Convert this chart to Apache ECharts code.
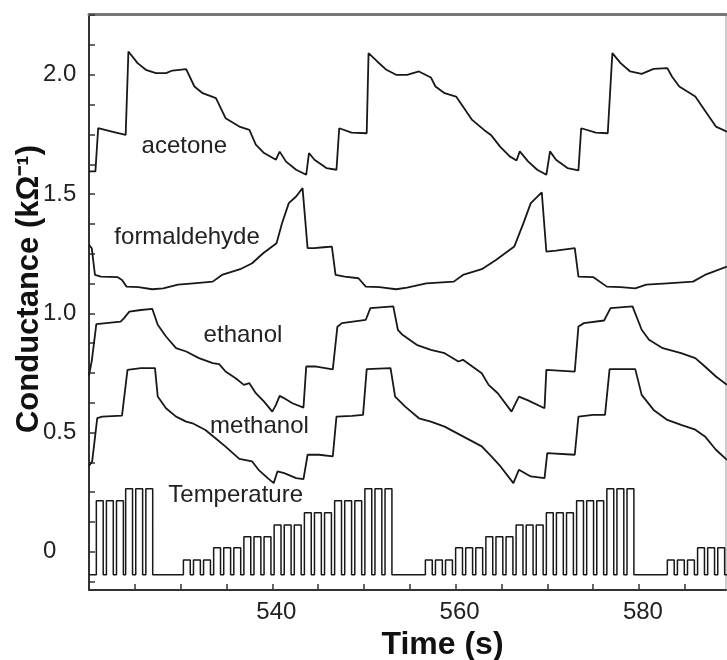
<!DOCTYPE html>
<html>
<head>
<meta charset="utf-8">
<script src="https://cdn.jsdelivr.net/npm/echarts@6/dist/echarts.min.js"></script>
<style>
  html, body { margin: 0; padding: 0; background: #fff; }
  #chart { width: 727px; height: 660px; }
</style>
</head>
<body>
<div id="chart"></div>
<script>
// time ticks (s) and conductance ticks (kOhm^-1)
const xTicks = [525, 530, 535, 540, 545, 550, 555, 560, 565, 570, 575, 580, 585]
const xLabels = [540, 560, 580]
const yTicks = [-0.125, 0, 0.125, 0.25, 0.375, 0.5, 0.625, 0.75, 0.875, 1, 1.125, 1.25, 1.375, 1.5, 1.625, 1.75, 1.875, 2, 2.125, 2.25]
const yLabels = [0, 0.5, 1, 1.5, 2]

// [time, conductance]
const acetone = [
  [520.0, 1.595], [520.7, 1.595], [521.0, 1.776], [522.5, 1.762], [524.0, 1.748], [524.3, 2.098],
  [525.3, 2.049], [526.2, 2.021], [527.3, 2.007], [528.4, 2.007], [529.1, 2.018], [530.6, 2.024],
  [531.5, 1.951], [532.4, 1.923], [533.85, 1.902], [534.9, 1.818], [536.4, 1.783], [537.5, 1.769],
  [538.2, 1.707], [539.1, 1.672], [540.4, 1.644], [540.8, 1.678], [541.5, 1.636], [542.6, 1.602],
  [543.7, 1.581], [544.0, 1.672], [544.6, 1.644], [545.9, 1.609], [547.0, 1.602], [547.3, 1.776],
  [548.65, 1.758], [550.3, 1.755], [550.5, 2.091], [551.45, 2.056], [552.45, 2.021], [553.5, 2.0],
  [554.7, 2.0], [556.0, 2.014], [557.3, 1.989], [557.8, 1.951], [558.8, 1.923], [560.05, 1.909],
  [560.8, 1.867], [561.8, 1.811], [563.1, 1.769], [563.85, 1.748], [564.85, 1.699], [565.9, 1.658],
  [566.65, 1.641], [567.0, 1.679], [567.9, 1.637], [568.9, 1.602], [569.9, 1.581], [570.3, 1.679],
  [570.95, 1.644], [572.2, 1.609], [573.4, 1.599], [573.7, 1.776], [575.3, 1.758], [576.6, 1.755],
  [577.1, 2.091], [578.0, 2.049], [579.05, 2.014], [580.3, 2.004], [581.6, 2.025], [583.1, 2.028],
  [583.6, 1.993], [584.4, 1.951], [586.15, 1.909], [587.4, 1.839], [588.4, 1.783], [589.6, 1.762]
]

const formaldehyde = [
  [520.0, 1.287], [520.3, 1.273], [520.65, 1.161], [521.3, 1.154], [523.1, 1.152], [523.6, 1.14],
  [524.1, 1.112], [525.4, 1.11], [526.9, 1.101], [528.1, 1.105], [529.7, 1.12], [531.4, 1.126],
  [533.5, 1.133], [534.5, 1.161], [536.5, 1.185], [537.8, 1.21], [539.0, 1.252], [540.46, 1.294],
  [541.06, 1.378], [541.8, 1.462], [542.6, 1.49], [543.3, 1.525], [543.85, 1.273], [544.6, 1.273],
  [545.6, 1.277], [546.5, 1.28], [546.9, 1.161], [547.9, 1.154], [549.4, 1.147], [550.2, 1.112],
  [551.7, 1.11], [553.5, 1.101], [554.7, 1.108], [556.8, 1.126], [559.8, 1.133], [560.8, 1.161],
  [562.85, 1.185], [564.4, 1.224], [566.4, 1.28], [567.4, 1.378], [568.2, 1.462], [569.4, 1.507],
  [569.9, 1.259], [570.95, 1.263], [573.0, 1.273], [573.4, 1.154], [575.0, 1.152], [576.5, 1.112],
  [578.0, 1.11], [579.6, 1.105], [580.8, 1.12], [583.1, 1.126], [585.9, 1.133], [587.2, 1.161],
  [589.6, 1.196]
]

const ethanol = [
  [520.0, 0.74], [520.3, 0.80], [520.8, 0.955], [521.0, 0.959], [523.45, 0.965], [523.8, 0.979],
  [524.4, 1.007], [525.65, 1.014], [526.9, 1.019], [527.5, 0.952], [528.4, 0.903], [529.5, 0.854],
  [530.6, 0.84], [532.0, 0.812], [533.5, 0.791], [534.2, 0.787], [534.9, 0.756], [536.0, 0.728],
  [536.9, 0.70], [537.5, 0.707], [538.2, 0.665], [539.1, 0.63], [540.0, 0.588], [540.4, 0.616],
  [540.8, 0.654], [541.3, 0.644], [542.2, 0.623], [543.4, 0.605], [543.7, 0.777], [544.8, 0.777],
  [546.6, 0.765], [547.1, 0.944], [547.6, 0.959], [550.2, 0.973], [550.7, 1.022], [553.2, 1.029],
  [553.7, 0.931], [554.2, 0.91], [555.75, 0.868], [557.3, 0.847], [558.8, 0.833], [560.3, 0.798],
  [560.8, 0.805], [562.85, 0.749], [563.6, 0.70], [564.6, 0.665], [566.1, 0.588], [566.9, 0.651],
  [567.9, 0.635], [569.7, 0.602], [569.9, 0.763], [573.0, 0.756], [573.4, 0.945], [574.0, 0.959],
  [576.2, 0.97], [576.9, 1.022], [579.3, 1.029], [580.3, 0.931], [581.1, 0.889], [582.6, 0.854],
  [584.6, 0.833], [586.15, 0.812], [587.2, 0.777], [588.4, 0.735], [589.6, 0.70]
]

const methanol = [
  [520.0, 0.36], [520.35, 0.38], [520.9, 0.561], [521.45, 0.567], [523.6, 0.571], [524.2, 0.763],
  [525.65, 0.77], [527.2, 0.77], [527.5, 0.651], [528.4, 0.602], [529.5, 0.567], [530.6, 0.546],
  [531.3, 0.539], [532.7, 0.511], [533.8, 0.476], [534.9, 0.441], [536.4, 0.39], [537.8, 0.379],
  [538.5, 0.344], [539.5, 0.309], [540.15, 0.288], [540.56, 0.337], [541.3, 0.33], [542.6, 0.309],
  [543.4, 0.305], [543.85, 0.407], [545.1, 0.407], [546.6, 0.40], [547.0, 0.567], [548.7, 0.57],
  [549.9, 0.574], [550.3, 0.766], [552.9, 0.77], [553.4, 0.651], [554.5, 0.609], [556.0, 0.56],
  [557.3, 0.546], [558.8, 0.525], [560.8, 0.484], [562.85, 0.442], [563.9, 0.40], [564.9, 0.358],
  [566.3, 0.288], [566.9, 0.344], [568.2, 0.316], [569.7, 0.309], [570.0, 0.414], [573.0, 0.407],
  [573.4, 0.567], [575.0, 0.574], [576.3, 0.574], [576.8, 0.766], [579.6, 0.766], [580.3, 0.658],
  [581.6, 0.595], [583.1, 0.553], [584.6, 0.532], [586.15, 0.512], [587.2, 0.484], [588.4, 0.428],
  [589.6, 0.386]
]

// heater pulses: value holds from each time to the next
const temperature = [
  [520.0, -0.096],
  [520.8, 0.214], [521.55, -0.096], [521.9, 0.214], [522.65, -0.096], [523.0, 0.214], [523.75, -0.096],
  [524.0, 0.264], [524.75, -0.096], [525.1, 0.264], [525.85, -0.096], [526.2, 0.264], [526.95, -0.096],
  [530.3, -0.034], [531.05, -0.096], [531.4, -0.034], [532.15, -0.096], [532.5, -0.034], [533.25, -0.096],
  [533.6, 0.017], [534.35, -0.096], [534.7, 0.017], [535.45, -0.096], [535.8, 0.017], [536.55, -0.096],
  [536.9, 0.063], [537.65, -0.096], [538.0, 0.063], [538.75, -0.096], [539.1, 0.063], [539.85, -0.096],
  [540.2, 0.113], [540.95, -0.096], [541.3, 0.113], [542.05, -0.096], [542.4, 0.113], [543.15, -0.096],
  [543.5, 0.164], [544.25, -0.096], [544.6, 0.164], [545.35, -0.096], [545.7, 0.164], [546.45, -0.096],
  [546.8, 0.214], [547.55, -0.096], [547.9, 0.214], [548.65, -0.096], [549.0, 0.214], [549.75, -0.096],
  [550.1, 0.264], [550.85, -0.096], [551.2, 0.264], [551.95, -0.096], [552.3, 0.264], [553.05, -0.096],
  [556.7, -0.034], [557.45, -0.096], [557.8, -0.034], [558.55, -0.096], [558.9, -0.034], [559.65, -0.096],
  [560.0, 0.017], [560.75, -0.096], [561.1, 0.017], [561.85, -0.096], [562.2, 0.017], [562.95, -0.096],
  [563.3, 0.063], [564.05, -0.096], [564.4, 0.063], [565.15, -0.096], [565.5, 0.063], [566.25, -0.096],
  [566.6, 0.113], [567.35, -0.096], [567.7, 0.113], [568.45, -0.096], [568.8, 0.113], [569.55, -0.096],
  [569.9, 0.164], [570.65, -0.096], [571.0, 0.164], [571.75, -0.096], [572.1, 0.164], [572.85, -0.096],
  [573.2, 0.214], [573.95, -0.096], [574.3, 0.214], [575.05, -0.096], [575.4, 0.214], [576.15, -0.096],
  [576.5, 0.264], [577.25, -0.096], [577.6, 0.264], [578.35, -0.096], [578.7, 0.264], [579.45, -0.096],
  [583.1, -0.034], [583.85, -0.096], [584.2, -0.034], [584.95, -0.096], [585.3, -0.034], [586.05, -0.096],
  [586.4, 0.017], [587.15, -0.096], [587.5, 0.017], [588.25, -0.096], [588.6, 0.017], [589.35, -0.096],
  [589.7, 0.063]
]

// where each trace is named, in data coordinates
const curveNames = ['acetone', 'formaldehyde', 'ethanol', 'methanol', 'Temperature']
const namePos = [[530.4, 1.698], [530.7, 1.317], [536.8, 0.906], [538.6, 0.524], [536.0, 0.235]]

const FONT = '"Liberation Sans", Arial, Helvetica, sans-serif'
const INK = '#181818'

const chart = echarts.init(document.getElementById('chart'), null, { renderer: 'canvas' })

const nameMark = (i) => ({
  symbol: 'circle',
  symbolSize: 1,
  itemStyle: { color: 'rgba(0,0,0,0)' },
  label: { show: true, position: 'inside', formatter: '{b}', color: '#222', fontSize: 24, fontFamily: FONT },
  data: [{ name: curveNames[i], coord: namePos[i] }]
})

const lineSeries = (data, i, width) => ({
  type: 'line',
  data: data,
  showSymbol: false,
  symbol: 'none',
  lineStyle: { color: INK, width: width },
  clip: true,
  silent: true,
  markPoint: nameMark(i)
})

const option = {
  animation: false,
  backgroundColor: '#fff',
  grid: {
    left: 89, right: 1, top: 14, bottom: 70,
    outerBoundsMode: 'none',
    show: true, borderColor: '#999', borderWidth: 1
  },
  xAxis: [{
    type: 'value',
    min: 520,
    max: 589.5,
    axisLine: { onZero: false, lineStyle: { color: '#333', width: 2 } },
    axisTick: { customValues: xTicks, inside: true, length: 6, lineStyle: { color: '#333', width: 1.5 } },
    axisLabel: { customValues: xLabels, fontSize: 24, color: '#222', margin: 10, fontFamily: FONT, padding: [0, 0, 0, 8] },
    splitLine: { show: false },
    name: 'Time (s)',
    nameLocation: 'middle',
    nameGap: 38,
    nameTextStyle: { fontSize: 32, fontWeight: 'bold', color: '#111', fontFamily: FONT, padding: [0, 0, 0, 70] }
  }, {
    type: 'value',
    position: 'top',
    min: 520,
    max: 589.5,
    axisLine: { onZero: false, lineStyle: { color: '#777', width: 3 } },
    axisTick: { show: false },
    axisLabel: { show: false },
    splitLine: { show: false }
  }],
  yAxis: {
    type: 'value',
    min: -0.16,
    max: 2.255,
    axisLine: { onZero: false, lineStyle: { color: '#333', width: 2 } },
    axisTick: { customValues: yTicks, inside: true, length: 6, lineStyle: { color: '#333', width: 1.5 } },
    axisLabel: {
      customValues: yLabels,
      align: 'left',
      margin: 46,
      fontSize: 24,
      color: '#222',
      fontFamily: FONT,
      formatter: (v) => (v === 0 ? '0' : v.toFixed(1))
    },
    splitLine: { show: false },
    name: 'Conductance (kΩ⁻¹)',
    nameLocation: 'middle',
    nameGap: 44,
    nameMoveOverlap: false,
    nameTextStyle: { fontSize: 31, fontWeight: 'bold', color: '#111', fontFamily: FONT, padding: [0, 0, 0, 26] }
  },
  series: [
    lineSeries(acetone, 0, 1.8),
    lineSeries(formaldehyde, 1, 1.8),
    lineSeries(ethanol, 2, 1.8),
    lineSeries(methanol, 3, 1.8),
    Object.assign(lineSeries(temperature, 4, 1.5), { step: 'end' })
  ]
}

chart.setOption(option)
</script>
</body>
</html>
